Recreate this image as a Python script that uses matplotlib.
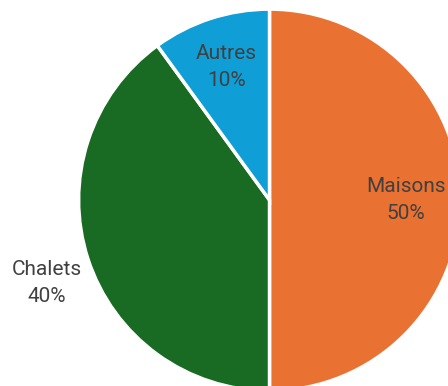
import numpy as np
import matplotlib
matplotlib.use("Agg")
import matplotlib.pyplot as plt

# housing types share
categories = ["Maisons", "Chalets", "Autres"]
shares = [50, 40, 10]
colors = ["#E97132", "#196B24", "#0F9ED5"]
label_dist = [0.72, 1.256, 0.74]
label_turn = [0, 2.5, 0]  # degrees, small nudge for the outside label

W, H, DPI = 448, 386, 100
cx, cy, scale = 269.5, 200.0, 189.0  # pie centre in pixels, pixels per data unit

fig = plt.figure(figsize=(W / DPI, H / DPI), dpi=DPI)
ax = fig.add_axes([0, 0, 1, 1])

wedges, _ = ax.pie(shares, colors=colors, startangle=90, counterclock=False,
                   radius=1.01,
                   wedgeprops=dict(edgecolor="white", linewidth=2.5))

total = sum(shares)
for w, name, val, d, t in zip(wedges, categories, shares, label_dist, label_turn):
    mid = np.deg2rad((w.theta1 + w.theta2) / 2 + t)
    x, y = d * np.cos(mid), d * np.sin(mid)
    ax.text(x, y, f"{name}\n{round(100 * val / total)}%", ha="center", va="center",
            fontsize=15, color="#404040", family="Roboto", linespacing=1.55)

ax.set_xlim(-cx / scale, (W - cx) / scale)
ax.set_ylim(-(H - cy) / scale, cy / scale)
ax.set_aspect("auto")
ax.axis("off")

fig.savefig("out.png", dpi=DPI)
